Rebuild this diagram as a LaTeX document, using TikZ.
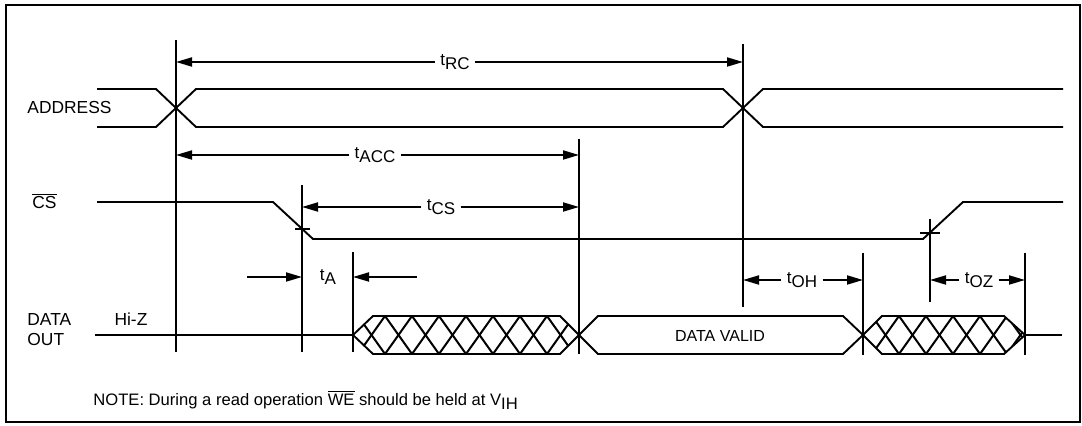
\documentclass[tikz,border=0pt]{standalone}
\usepackage{fontspec}
\setmainfont{Liberation Sans}
\usetikzlibrary{arrows.meta, positioning, calc}
\tikzset{
	frameline/.style={line width=0.7pt},
	sigline/.style={line width=0.95pt, line join=miter},
	tline/.style={line width=0.95pt},
	hatchline/.style={line width=1pt},
	dimarrow/.style={-{Triangle[length=8pt, width=4.5pt]}, line width=0.95pt},
	tlabel/.style={font=\fontsize{8.5}{10}\selectfont, inner sep=2.5pt},
	siglabel/.style={font=\fontsize{8.7}{10}\selectfont, anchor=west, inner sep=0pt, align=left},
}
\newcommand{\tsub}[1]{t\raisebox{-2pt}{#1}}

\begin{document}
\begin{tikzpicture}[x=0.5pt, y=-0.5pt]
	\useasboundingbox (0,0) rectangle (1082,426);
	\draw[frameline] (6,5) rectangle (1080,422);
	% timing markers
	\foreach \n/\x/\ya/\yb in {mA/176/40/352, mB/579/139/354, mC/743/44/307, mD/302/185/352,
		mE/353/252/352, mF/863/253/355, mG/930/219/302, mH/1025/253/355}{
		\coordinate (\n) at (\x,\ya);
		\draw[tline] (\n) -- (\x,\yb);
	}
	% signal names
	\node[siglabel] (addr) at (27,108) {ADDRESS};
	\node[siglabel] (cs) at (32,201) {$\overline{\mbox{CS}}$};
	\node[siglabel] (dout) at (27,330) {DATA\\OUT};
	\node[siglabel, anchor=center] (hiz) at (131,319) {Hi-Z};
	% address
	\draw[sigline] (97,89) -- (156,89) -- (196,127) -- (723,127) -- (763,89) -- (1063,89);
	\draw[sigline] (97,127) -- (156,127) -- (196,89) -- (723,89) -- (763,127) -- (1063,127);
	% chip select
	\draw[sigline] (97,202) -- (273,202) -- (313,239) -- (923,239) -- (963,202) -- (1063,202);
	\draw[sigline] (295,229) -- (310,229);
	\draw[sigline] (920,233) -- (940,233);
	% data out
	\draw[sigline] (95,335) -- (353,335);
	\draw[sigline] (1025,335) -- (1062,335);
	\foreach \xa/\xb/\xc/\xd/\xs/\nk in {353/373/560/579/331/10, 863/882/1004/1025/845/7}{
		\begin{scope}
			\clip (\xa,335) -- (\xb,316) -- (\xc,316) -- (\xd,335) -- (\xc,354) -- (\xb,354) -- cycle;
			\foreach \k in {0,...,\nk}{
				\draw[hatchline] (\xs+27*\k,316) -- ++(27,38);
				\draw[hatchline] (\xs+27*\k+27,316) -- ++(-27,38);
			}
		\end{scope}
		\draw[sigline] (\xa,335) -- (\xb,316) -- (\xc,316) -- (\xd,335) -- (\xc,354) -- (\xb,354) -- cycle;
	}
	\draw[sigline] (579,335) -- (598,316) -- (843,316) -- (863,335) -- (843,354) -- (598,354) -- cycle;
	\node[font=\fontsize{8}{9}\selectfont] (valid) at (720,336) {DATA VALID};
	% timing parameters
	\node[tlabel] (tRC) at (455,62) {\tsub{RC}};
	\draw[dimarrow] (tRC.west) -- (tRC.west -| mA);
	\draw[dimarrow] (tRC.east) -- (tRC.east -| mC);
	\node[tlabel] (tACC) at (375,155) {\tsub{ACC}};
	\draw[dimarrow] (tACC.west) -- (tACC.west -| mA);
	\draw[dimarrow] (tACC.east) -- (tACC.east -| mB);
	\node[tlabel] (tCS) at (441,207) {\tsub{CS}};
	\draw[dimarrow] (tCS.west) -- (tCS.west -| mD);
	\draw[dimarrow] (tCS.east) -- (tCS.east -| mB);
	\node[tlabel] (tA) at (328,277) {\tsub{A}};
	\coordinate (tAl) at (247,277);
	\coordinate (tAr) at (417,277);
	\draw[dimarrow] (tAl) -- (tAl -| mD);
	\draw[dimarrow] (tAr) -- (tAr -| mE);
	\node[tlabel] (tOH) at (802,280) {\tsub{OH}};
	\draw[dimarrow] (tOH.west) -- (tOH.west -| mC);
	\draw[dimarrow] (tOH.east) -- (tOH.east -| mF);
	\node[tlabel] (tOZ) at (979,280) {\tsub{OZ}};
	\draw[dimarrow] (tOZ.west) -- (tOZ.west -| mG);
	\draw[dimarrow] (tOZ.east) -- (tOZ.east -| mH);
	% note
	\node[siglabel, font=\fontsize{8.3}{10}\selectfont] (note) at (93,400) {NOTE: During a read operation $\overline{\mbox{WE}}$ should be held at V\raisebox{-2pt}{IH}};
\end{tikzpicture}
\end{document}
